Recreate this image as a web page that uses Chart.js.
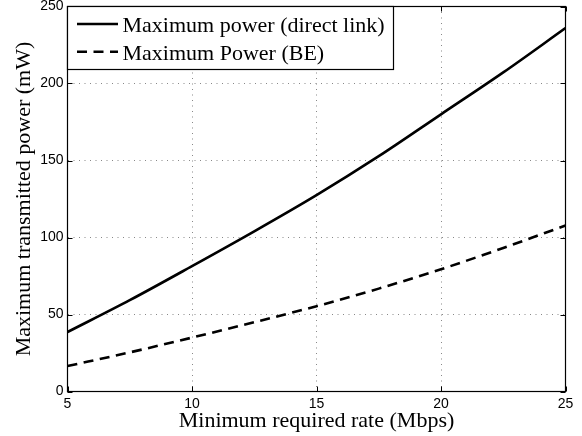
<!DOCTYPE html>
<html>
<head>
<meta charset="utf-8">
<script src="https://cdn.jsdelivr.net/npm/chart.js@4"></script>
<style>
  html, body { margin: 0; padding: 0; background: #fff; }
  #wrap { width: 582px; height: 436px; }
</style>
</head>
<body>
<div id="wrap"><canvas id="myChart" width="582" height="436"></canvas></div>
<script>
// data
const rates = [5, 7.5, 10, 12.5, 15, 17.5, 20, 22.5, 25];
const powerDirect = [38.6, 59.3, 81.4, 104, 127.5, 152.8, 180, 207.2, 236];
const powerBE = [16.5, 25.4, 35, 45, 55.4, 66.8, 79.4, 93.2, 107.8];
const xTicks = [5, 10, 15, 20, 25];
const yTicks = [0, 50, 100, 150, 200, 250];

function points(xs, ys) {
  let out = [];
  for (let i = 0; i < xs.length; i++) out.push({x: xs[i], y: ys[i]});
  return out;
}

// Frame box + inward ticks (matlab style)
const frameTicks = {
  id: 'frameTicks',
  afterDatasetsDraw(chart) {
    const { ctx, chartArea: a, scales } = chart;
    ctx.save();
    ctx.strokeStyle = '#000';
    ctx.lineWidth = 1;
    ctx.beginPath();
    xTicks.forEach(v => {
      const px = Math.round(scales.x.getPixelForValue(v)) + 0.5;
      ctx.moveTo(px, a.bottom); ctx.lineTo(px, a.bottom - 5);
      ctx.moveTo(px, a.top); ctx.lineTo(px, a.top + 5);
    });
    yTicks.forEach(v => {
      const py = Math.round(scales.y.getPixelForValue(v)) + 0.5;
      ctx.moveTo(a.left, py); ctx.lineTo(a.left + 5, py);
      ctx.moveTo(a.right, py); ctx.lineTo(a.right - 5, py);
    });
    ctx.stroke();
    ctx.lineWidth = 1.2;
    ctx.strokeRect(a.left, a.top, a.right - a.left, a.bottom - a.top);
    ctx.restore();
  }
};

// Legend box inside the plot, top left
const boxLegend = {
  id: 'boxLegend',
  afterDraw(chart) {
    const { ctx, chartArea: a } = chart;
    const x0 = a.left, y0 = a.top, w = 326, h = 63;
    ctx.save();
    ctx.fillStyle = '#fff';
    ctx.fillRect(x0, y0, w, h);
    ctx.strokeStyle = '#000';
    ctx.lineWidth = 1.2;
    ctx.strokeRect(x0, y0, w, h);
    ctx.font = '22px "Liberation Serif", serif';
    ctx.fillStyle = '#000';
    ctx.textBaseline = 'alphabetic';
    chart.data.datasets.forEach((ds, i) => {
      const ly = y0 + 17.5 + i * 27.7;
      ctx.lineWidth = 2.6;
      ctx.setLineDash(ds.borderDash || []);
      ctx.beginPath();
      ctx.moveTo(x0 + 9.5, ly); ctx.lineTo(x0 + 50.5, ly);
      ctx.stroke();
      ctx.setLineDash([]);
      ctx.fillText(ds.label, x0 + 55, ly + 8.3);
    });
    ctx.restore();
  }
};

const ctx = document.getElementById('myChart');

const config = {
  type: 'line',
  data: {
    datasets: [{
      label: 'Maximum power (direct link)',
      data: points(rates, powerDirect),
      borderColor: '#000',
      borderWidth: 2.6,
      pointRadius: 0,
      cubicInterpolationMode: 'monotone',
      fill: false
    }, {
      label: 'Maximum Power (BE)',
      data: points(rates, powerBE),
      borderColor: '#000',
      borderWidth: 2.6,
      borderDash: [10, 6.5],
      pointRadius: 0,
      cubicInterpolationMode: 'monotone',
      fill: false
    }]
  },
  options: {
    responsive: false,
    animation: false,
    layout: { padding: { left: 0, right: 16.5, top: 6.5, bottom: 0 } },
    plugins: { legend: { display: false }, tooltip: { enabled: false } },
    scales: {
      x: {
        type: 'linear',
        min: 5, max: 25,
        afterBuildTicks(scale) { scale.ticks = xTicks.map(v => ({value: v})); },
        afterFit(scale) { scale.height = 44.5; scale.paddingLeft = 0; scale.paddingRight = 0; },
        grid: { color: '#888', lineWidth: 1, drawTicks: false },
        border: { display: false, dash: [1, 4.5] },
        ticks: {
          color: '#000',
          padding: 4,
          maxRotation: 0,
          font: { family: '"Liberation Sans", sans-serif', size: 14 }
        },
        title: {
          display: true,
          text: 'Minimum required rate (Mbps)',
          color: '#000',
          padding: { top: 0, bottom: 2 },
          font: { family: '"Liberation Serif", serif', size: 22 }
        }
      },
      y: {
        min: 0, max: 250,
        afterBuildTicks(scale) { scale.ticks = yTicks.map(v => ({value: v})); },
        afterFit(scale) { scale.width = 67.5; scale.paddingTop = 0; scale.paddingBottom = 0; },
        grid: { color: '#888', lineWidth: 1, drawTicks: false },
        border: { display: false, dash: [1, 4.5] },
        ticks: {
          color: '#000',
          padding: 4,
          font: { family: '"Liberation Sans", sans-serif', size: 14 }
        },
        title: {
          display: true,
          text: 'Maximum transmitted power (mW)',
          color: '#000',
          padding: { top: 11, bottom: 0 },
          font: { family: '"Liberation Serif", serif', size: 22 }
        }
      }
    }
  },
  plugins: [frameTicks, boxLegend]
};

const myChart = new Chart(ctx, config);
</script>
</body>
</html>
